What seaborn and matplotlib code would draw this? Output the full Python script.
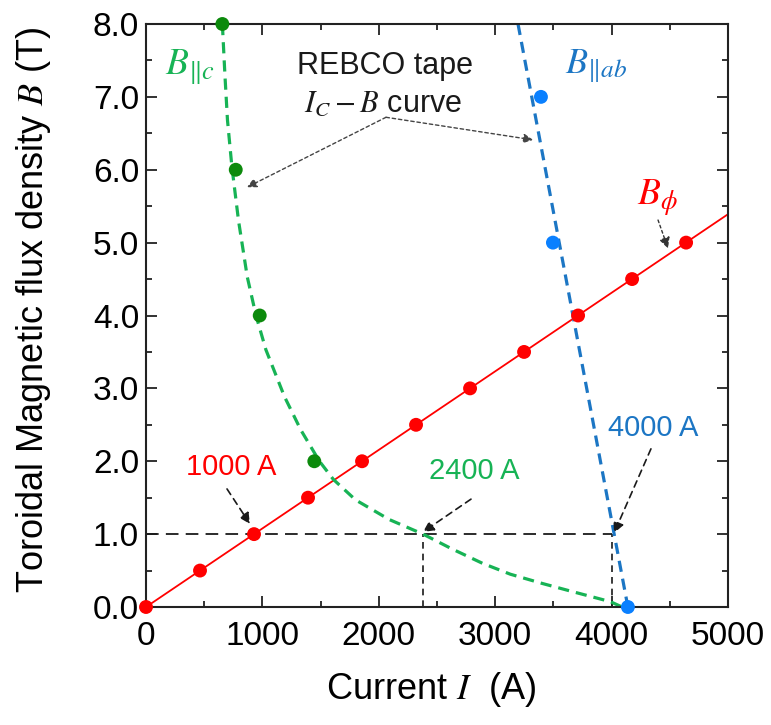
import matplotlib
matplotlib.use("Agg")
import matplotlib.pyplot as plt
import seaborn as sns
import pandas as pd
from matplotlib.ticker import MultipleLocator

# ---- data ----
phi_I = [0, 464, 928, 1392, 1856, 2320, 2784, 3248, 3712, 4176, 4640]
phi_B = [0.0, 0.5, 1.0, 1.5, 2.0, 2.5, 3.0, 3.5, 4.0, 4.5, 5.0]
phi_line_I = [0, 5000]
phi_line_B = [0.0, 5.39]

c_pts_I = [656, 771, 977, 1446]
c_pts_B = [8.0, 6.0, 4.0, 2.0]
c_curve_I = [656, 678, 700, 738, 795, 870, 945, 1030, 1190, 1330, 1490, 1610,
             1800, 2090, 2380, 2625, 2890, 3130, 3400, 3690, 3990, 4090]
c_curve_B = [8.0, 7.3, 6.68, 6.04, 5.3, 4.53, 4.0, 3.53, 2.885, 2.43, 2.0, 1.75,
             1.47, 1.2, 1.0, 0.8, 0.6, 0.45, 0.325, 0.2, 0.073, 0.0]

ab_pts_I = [3393, 3496, 4140]
ab_pts_B = [7.0, 5.0, 0.0]
ab_line_I = [3196, 4140]
ab_line_B = [8.0, 0.0]

op_B = 1.0
op_I_c = 2380
op_I_ab = 4000

x_ticks = [0, 1000, 2000, 3000, 4000, 5000]
y_ticks = [0.0, 1.0, 2.0, 3.0, 4.0, 5.0, 6.0, 7.0, 8.0]

RED = "#ff0000"
GREEN_L = "#17b355"
GREEN_P = "#0c8a0c"
BLUE_L = "#1c76c4"
BLUE_P = "#0a80ff"

sns.set_theme(style="ticks")
plt.rcParams["font.family"] = ["Liberation Sans", "DejaVu Sans"]
plt.rcParams["mathtext.fontset"] = "stix"
plt.rcParams["text.color"] = "black"
plt.rcParams["axes.labelcolor"] = "black"
plt.rcParams["xtick.color"] = "black"
plt.rcParams["ytick.color"] = "black"

fig = plt.figure(figsize=(7.71, 7.25), dpi=100)
ax = fig.add_axes([146 / 771, 1 - 607 / 725, (728 - 146) / 771, (607 - 24) / 725])

# dashed reference lines
ax.plot([0, op_I_ab], [op_B, op_B], color="k", lw=1.3, ls=(0, (7, 4)), zorder=1)
ax.plot([op_I_c, op_I_c], [0, op_B], color="k", lw=1.2, ls=(0, (4, 3)), zorder=1)
ax.plot([op_I_ab, op_I_ab], [0, op_B], color="k", lw=1.2, ls=(0, (4, 3)), zorder=1)

# curves
df_phi = pd.DataFrame({"I": phi_line_I, "B": phi_line_B})
sns.lineplot(data=df_phi, x="I", y="B", sort=False, estimator=None, color=RED,
             lw=1.3, ax=ax, zorder=2)
df_c = pd.DataFrame({"I": c_curve_I, "B": c_curve_B})
sns.lineplot(data=df_c, x="I", y="B", sort=False, estimator=None, color=GREEN_L,
             lw=2.3, ax=ax, zorder=2).lines[-1].set_linestyle((0, (3.5, 2.2)))
df_ab = pd.DataFrame({"I": ab_line_I, "B": ab_line_B})
sns.lineplot(data=df_ab, x="I", y="B", sort=False, estimator=None, color=BLUE_L,
             lw=2.3, ax=ax, zorder=2).lines[-1].set_linestyle((0, (3.5, 2.2)))

# points
sns.scatterplot(x=phi_I, y=phi_B, color=RED, s=100, edgecolor="none", ax=ax,
                zorder=4, clip_on=False)
sns.scatterplot(x=c_pts_I, y=c_pts_B, color=GREEN_P, s=100, edgecolor="none",
                ax=ax, zorder=4, clip_on=False)
sns.scatterplot(x=ab_pts_I, y=ab_pts_B, color=BLUE_P, s=100, edgecolor="none",
                ax=ax, zorder=4, clip_on=False)

ax.set_xlim(0, 5000)
ax.set_ylim(0, 8)
ax.set_xticks(x_ticks)
ax.set_yticks(y_ticks)
ax.set_yticklabels([f"{v:.1f}" for v in y_ticks])
ax.xaxis.set_minor_locator(MultipleLocator(500))
ax.yaxis.set_minor_locator(MultipleLocator(0.5))
ax.tick_params(which="both", direction="in", top=True, right=True, width=1.3,
               color="#222222", labelcolor="black")
ax.tick_params(which="major", length=8, labelsize=24)
ax.tick_params(axis="x", which="major", pad=10)
ax.tick_params(axis="y", which="major", pad=5)
ax.tick_params(which="minor", length=4)
for s in ax.spines.values():
    s.set_linewidth(1.5)
    s.set_color("#222222")

ax.set_xlabel("Current $I$  (A)", fontsize=26, color="black")
ax.xaxis.label.set_va("center")
ax.xaxis.set_label_coords(0.49, -0.142)
ax.set_ylabel("Toroidal Magnetic flux density $B$ (T)", fontsize=26, color="black")
ax.yaxis.label.set_va("center")
ax.yaxis.set_label_coords(-0.194, 0.509)

# labels
ax.text(378, 7.42, r"$B_{\Vert c}$", color=GREEN_L, fontsize=27, ha="center", va="center")
ax.text(3866, 7.42, r"$B_{\Vert ab}$", color=BLUE_L, fontsize=26, ha="center", va="center")
ax.text(4390, 5.62, r"$B_{\phi}$", color=RED, fontsize=27, ha="center", va="center")
ax.text(2053, 7.43, "REBCO tape", fontsize=22, ha="center", va="center", color="k")
ax.text(2036, 6.91, r"$I_C - B$ curve", fontsize=22, ha="center", va="center", color="k")

arrow_k = dict(arrowstyle="-|>", color="k", lw=1.2, ls=(0, (4, 3)),
               mutation_scale=16, shrinkA=0, shrinkB=0)
ax.text(730, 1.92, "1000 A", color=RED, fontsize=21, ha="center", va="center")
ax.annotate("", xy=(893, 1.14), xytext=(696, 1.62), arrowprops=arrow_k)
ax.text(2818, 1.87, "2400 A", color=GREEN_L, fontsize=21, ha="center", va="center")
ax.annotate("", xy=(2380, 1.03), xytext=(2792, 1.48), arrowprops=arrow_k)
ax.text(4356, 2.46, "4000 A", color=BLUE_L, fontsize=21, ha="center", va="center")
ax.annotate("", xy=(4021, 1.015), xytext=(4338, 2.17), arrowprops=arrow_k)
ax.annotate("", xy=(4485, 4.92), xytext=(4399, 5.31),
            arrowprops=dict(arrow_k, ls=(0, (2, 2)), lw=1.0, color="#333333"))

arrow_g = dict(arrowstyle="-|>", color="#444444", lw=1.0, ls=(0, (2.5, 2)),
               mutation_scale=14, shrinkA=0, shrinkB=0)
ax.annotate("", xy=(868, 5.76), xytext=(2062, 6.72), arrowprops=arrow_g)
ax.annotate("", xy=(3325, 6.41), xytext=(2062, 6.72), arrowprops=arrow_g)

fig.savefig("out.png", dpi=100)
